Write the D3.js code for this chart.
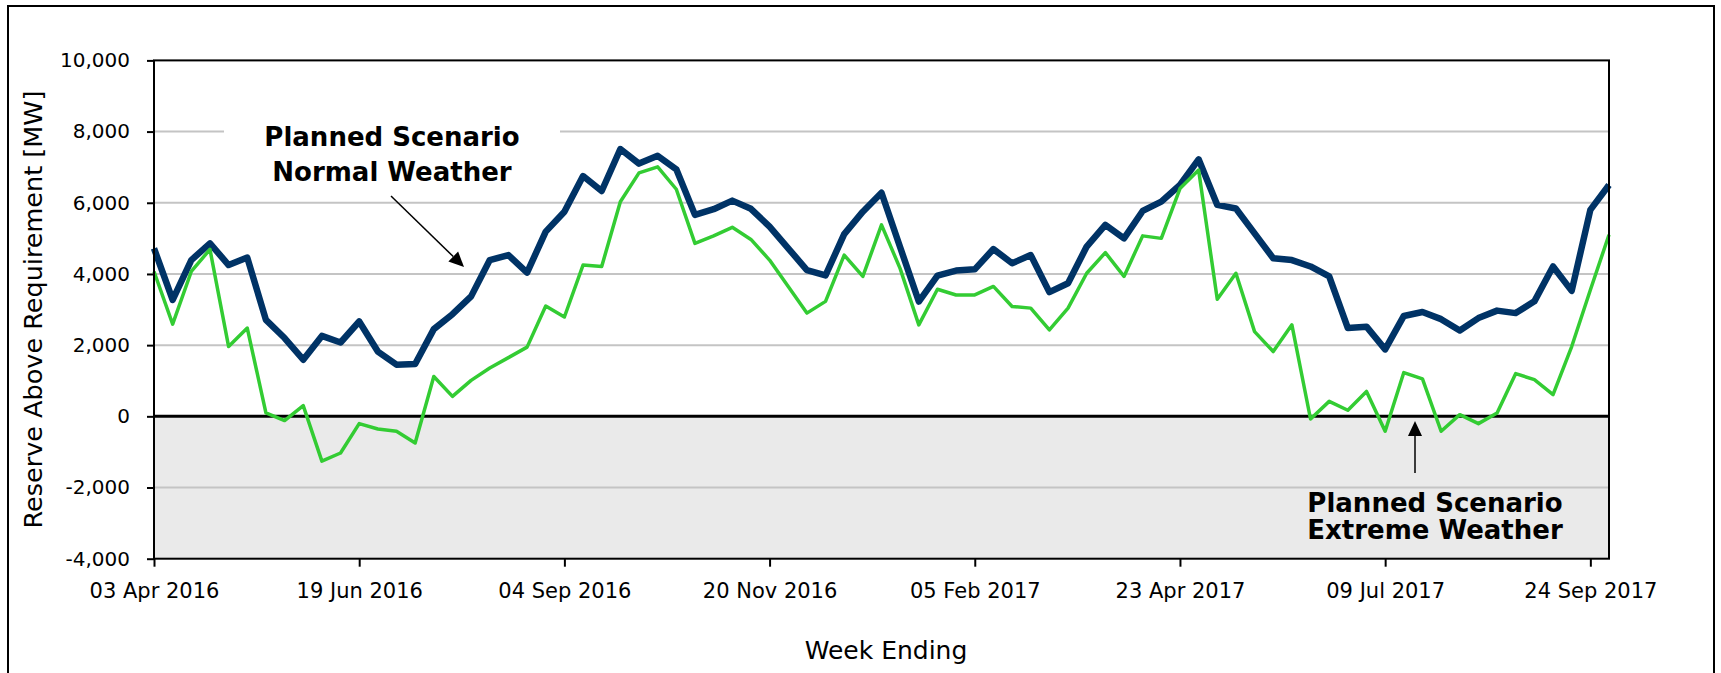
<html>
<head>
<meta charset="utf-8">
<title>Reserve Above Requirement</title>
<script src="https://cdnjs.cloudflare.com/ajax/libs/d3/7.8.5/d3.min.js"></script>
<style>
  body { margin: 0; background: #fff; }
  text { font-family: "DejaVu Sans", Verdana, sans-serif; fill: #000; }
  .note { font-family: "DejaVu Sans", Verdana, sans-serif; font-weight: bold; }
</style>
</head>
<body>
<svg id="chart" width="1721" height="673"></svg>
<script>
// weekly values, MW above requirement
var firstWeek = "2016-04-03";
var normalWeather = [4720, 3270, 4390, 4860, 4250, 4460, 2710, 2200, 1590, 2260,
  2075, 2665, 1820, 1450, 1470, 2450, 2870, 3370, 4390, 4530,
  4040, 5190, 5750, 6750, 6330, 7510, 7100, 7320, 6940, 5660,
  5820, 6060, 5830, 5330, 4720, 4110, 3960, 5120, 5750, 6280,
  4750, 3225, 3955, 4095, 4130, 4700, 4300, 4530, 3490, 3740,
  4770, 5380, 5000, 5770, 6030, 6500, 7220, 5940, 5840, 5140,
  4440, 4390, 4210, 3930, 2480, 2520, 1880, 2820, 2930, 2730,
  2410, 2760, 2970, 2900, 3230, 4210, 3525, 5800, 6500];
var extremeWeather = [4070, 2590, 4070, 4690, 1960, 2480, 94, -120, 300, -1260,
  -1030, -205, -355, -420, -750, 1120, 560, 1010, 1360, 1650,
  1945, 3100, 2790, 4250, 4210, 6030, 6840, 7010, 6380, 4860,
  5070, 5310, 4970, 4390, 3650, 2900, 3230, 4530, 3930, 5380,
  4150, 2570, 3570, 3410, 3410, 3650, 3085, 3040, 2430, 3040,
  4020, 4600, 3930, 5070, 5000, 6400, 6920, 3290, 4020, 2380,
  1820, 2570, -75, 420, 170, 700, -420, 1230, 1050, -420,
  47, -205, 94, 1200, 1030, 610, 1960, 3550, 5100];
var xTickLabels = ["03 Apr 2016", "19 Jun 2016", "04 Sep 2016", "20 Nov 2016",
  "05 Feb 2017", "23 Apr 2017", "09 Jul 2017", "24 Sep 2017"];
var yTicks = [-4000, -2000, 0, 2000, 4000, 6000, 8000, 10000];

(function () {
var parse = d3.timeParse("%Y-%m-%d");
var parseTick = d3.timeParse("%d %b %Y");
var start = parse(firstWeek);
var weeks = normalWeather.map(function (d, i) { return d3.timeDay.offset(start, 7 * i); });

var plotLeft = 154, plotRight = 1609, plotTop = 60.4, plotBottom = 558.7;
var svg = d3.select('#chart');

var x = d3.scaleTime()
    .domain([weeks[0], weeks[weeks.length - 1]])
    .range([plotLeft, plotRight]);
var y = d3.scaleLinear()
    .domain([-4000, 10000])
    .range([plotBottom, plotTop]);

// outer frame
svg.append('rect')
    .attr('x', 8).attr('y', 6).attr('width', 1706).attr('height', 720)
    .attr('fill', 'none').attr('stroke', '#000').attr('stroke-width', 2);

// grey band below zero
svg.append('rect')
    .attr('x', plotLeft).attr('y', y(0))
    .attr('width', plotRight - plotLeft).attr('height', y(-4000) - y(0))
    .attr('fill', '#eaeaea');

// gridlines
svg.append('g').selectAll('line')
    .data(yTicks.filter(function (d) { return d != 0 && d != -4000 && d != 10000; }))
    .enter().append('line')
    .attr('x1', plotLeft).attr('x2', plotRight)
    .attr('y1', function (d) { return y(d); })
    .attr('y2', function (d) { return y(d); })
    .attr('stroke', '#c4c4c4').attr('stroke-width', 2);

// white box behind the upper note
svg.append('rect')
    .attr('x', 224).attr('y', 108).attr('width', 336).attr('height', 84)
    .attr('fill', '#fff');

// zero line
svg.append('line')
    .attr('x1', plotLeft).attr('x2', plotRight)
    .attr('y1', y(0)).attr('y2', y(0))
    .attr('stroke', '#000').attr('stroke-width', 3);

var line = d3.line()
    .x(function (d, i) { return x(weeks[i]); })
    .y(function (d) { return y(d); });

svg.append('path')
    .datum(normalWeather)
    .attr('d', line)
    .attr('fill', 'none').attr('stroke', '#003366')
    .attr('stroke-width', 6.5).attr('stroke-linejoin', 'round');

svg.append('path')
    .datum(extremeWeather)
    .attr('d', line)
    .attr('fill', 'none').attr('stroke', '#33cc33')
    .attr('stroke-width', 3.5).attr('stroke-linejoin', 'round');

// axes
var comma = d3.format(',');
var yAxis = d3.axisLeft(y)
    .tickValues(yTicks)
    .tickSize(7).tickPadding(17)
    .tickFormat(function (d) { return comma(d).replace('\u2212', '-'); });
var gy = svg.append('g').attr('transform', 'translate(' + plotLeft + ',0)').call(yAxis);

var xAxis = d3.axisBottom(x)
    .tickValues(xTickLabels.map(parseTick))
    .tickSize(8).tickPadding(16)
    .tickFormat(d3.timeFormat('%d %b %Y'));
var gx = svg.append('g').attr('transform', 'translate(0,' + plotBottom + ')').call(xAxis);

[gx, gy].forEach(function (g) {
    g.select('.domain').remove();
    g.selectAll('line').attr('stroke', '#000').attr('stroke-width', 2);
    g.selectAll('text').attr('fill', '#000');
    g.attr('font-family', null);
});
gy.attr('font-size', 20);
gx.attr('font-size', 21);

// plot frame
svg.append('rect')
    .attr('x', plotLeft).attr('y', plotTop)
    .attr('width', plotRight - plotLeft).attr('height', plotBottom - plotTop)
    .attr('fill', 'none').attr('stroke', '#000').attr('stroke-width', 2);

// titles
svg.append('text')
    .attr('transform', 'translate(42,' + ((plotTop + plotBottom) / 2) + ') rotate(-90)')
    .attr('text-anchor', 'middle')
    .attr('font-size', 25.5)
    .text('Reserve Above Requirement [MW]');

svg.append('text')
    .attr('x', 886).attr('y', 659)
    .attr('text-anchor', 'middle')
    .attr('font-size', 25)
    .text('Week Ending');

// notes with arrows
function note(cx, y1, y2, a, b) {
    var t = svg.append('text').attr('class', 'note')
        .attr('text-anchor', 'middle').attr('font-size', 26);
    t.append('tspan').attr('x', cx).attr('y', y1).text(a);
    t.append('tspan').attr('x', cx).attr('y', y2).text(b);
}
function arrow(x1, y1, x2, y2) {
    var ang = Math.atan2(y2 - y1, x2 - x1), len = 15, w = 7;
    var bx = x2 - len * Math.cos(ang), by = y2 - len * Math.sin(ang);
    svg.append('line')
        .attr('x1', x1).attr('y1', y1).attr('x2', bx).attr('y2', by)
        .attr('stroke', '#000').attr('stroke-width', 1.5);
    svg.append('path')
        .attr('d', 'M' + x2 + ',' + y2 +
            'L' + (bx + w * Math.sin(ang)) + ',' + (by - w * Math.cos(ang)) +
            'L' + (bx - w * Math.sin(ang)) + ',' + (by + w * Math.cos(ang)) + 'Z')
        .attr('fill', '#000');
}

note(392, 146, 181, 'Planned Scenario', 'Normal Weather');
arrow(391, 196, 464, 267);

note(1435, 512, 539, 'Planned Scenario', 'Extreme Weather');
arrow(1415, 473, 1415, 421);
})();
</script>
</body>
</html>
